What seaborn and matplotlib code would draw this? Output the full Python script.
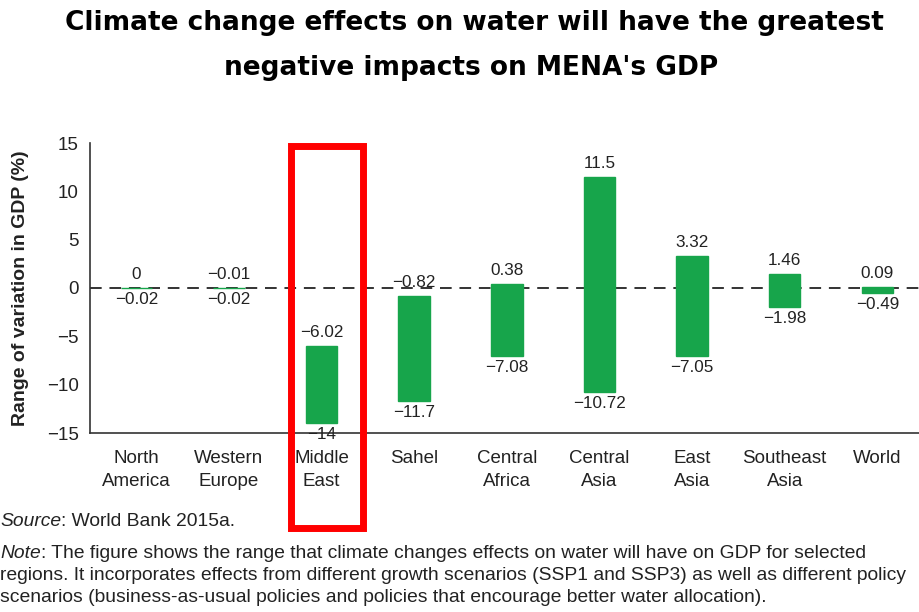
import numpy as np
import pandas as pd
import matplotlib
matplotlib.use("Agg")
import matplotlib.pyplot as plt
from matplotlib.patches import Rectangle
import seaborn as sns

# values
regions = ["North\nAmerica", "Western\nEurope", "Middle\nEast", "Sahel", "Central\nAfrica",
           "Central\nAsia", "East\nAsia", "Southeast\nAsia", "World"]
upper = [0, -0.01, -6.02, -0.82, 0.38, 11.5, 3.32, 1.46, 0.09]
lower = [-0.02, -0.02, -14, -11.7, -7.08, -10.72, -7.05, -1.98, -0.49]
yticks = [-15, -10, -5, 0, 5, 10, 15]

df = pd.DataFrame({"Region": regions, "Upper": upper, "Lower": lower})
df["Span"] = df["Upper"] - df["Lower"]

sns.set_theme(style="white")
plt.rcParams["font.family"] = ["Liberation Sans", "DejaVu Sans"]

fig = plt.figure(figsize=(9.19, 6.12), dpi=100)
ax = fig.add_axes([90 / 919, 1 - 433 / 612, 1 - 90 / 919, (433 - 143) / 612])

green = "#17a54b"
sns.barplot(data=df, x="Region", y="Span", bottom=df["Lower"].values, color=green,
            width=0.34, saturation=1, edgecolor=green, linewidth=1, ax=ax)

ax.axhline(0, color="#333333", lw=1.4, ls=(0, (6, 4)), zorder=0)

fmt = lambda v: f"{v:g}".replace("-", "\u2212")
for i, (hi, lo) in enumerate(zip(upper, lower)):
    ax.annotate(fmt(hi), (i, hi), xytext=(0, 9.8), textcoords="offset points",
                ha="center", va="center", fontsize=12.3, color="#222222")
    ax.annotate(fmt(lo), (i, lo), xytext=(0, -8.3), textcoords="offset points",
                ha="center", va="center", fontsize=12.3, color="#222222")

ax.set_ylim(-15, 15)
ax.set_xlim(-0.5, 8.45)
ax.set_yticks(yticks)
ax.set_yticklabels([fmt(t) for t in yticks], fontsize=13.5, color="#222222")
ax.set_xticks(range(len(regions)))
ax.set_xticklabels(regions, fontsize=13.5, color="#222222", linespacing=1.45)
ax.set_xticks(np.arange(0.5, 8, 1), minor=True)
ax.tick_params(axis="x", which="major", length=0, pad=12)
ax.tick_params(axis="x", which="minor", direction="in", length=5, width=1.2, color="#333333")
ax.tick_params(axis="y", direction="out", length=5, width=1.2, color="#333333", pad=3)
ax.set_xlabel("")
ax.set_ylabel("Range of variation in GDP (%)", fontsize=14, fontweight="bold", color="#222222",
              labelpad=13)
sns.despine(ax=ax)
for s in ["left", "bottom"]:
    ax.spines[s].set_color("#333333")
    ax.spines[s].set_linewidth(1.2)

# title
fig.text(0.516, 1 - 23 / 612, "Climate change effects on water will have the greatest",
         ha="center", va="center", fontsize=19, fontweight="bold", color="black",
         family="DejaVu Sans")
fig.text(0.513, 1 - 68 / 612, "negative impacts on MENA's GDP",
         ha="center", va="center", fontsize=19, fontweight="bold", color="black",
         family="DejaVu Sans")

# highlight box around Middle East
fig.patches.append(Rectangle((290.5 / 919, 1 - 528 / 612), (362.5 - 290.5) / 919,
                             (528 - 146) / 612, transform=fig.transFigure, fill=False,
                             edgecolor="#ff0000", lw=5, zorder=10))

# source and note
note_kw = dict(fontsize=13.9, color="#222222")
src = fig.text(0.0, 1 - 522 / 612, "Source", style="italic", va="center", **note_kw)
fig.add_artist(plt.Annotation(": World Bank 2015a.", xy=(1, 0.5), xycoords=src,
                              va="center", ha="left", **note_kw))
nt = fig.text(0.0, 1 - 553 / 612, "Note", style="italic", va="center", **note_kw)
fig.add_artist(plt.Annotation(": The figure shows the range that climate changes effects on water "
                              "will have on GDP for selected", xy=(1, 0.5), xycoords=nt,
                              va="center", ha="left", **note_kw))
fig.text(0.0, 1 - 575 / 612, "regions. It incorporates effects from different growth scenarios "
         "(SSP1 and SSP3) as well as different policy", va="center", **note_kw)
fig.text(0.0, 1 - 597 / 612, "scenarios (business-as-usual policies and policies that encourage "
         "better water allocation).", va="center", **note_kw)

fig.savefig("out.png", dpi=100)
